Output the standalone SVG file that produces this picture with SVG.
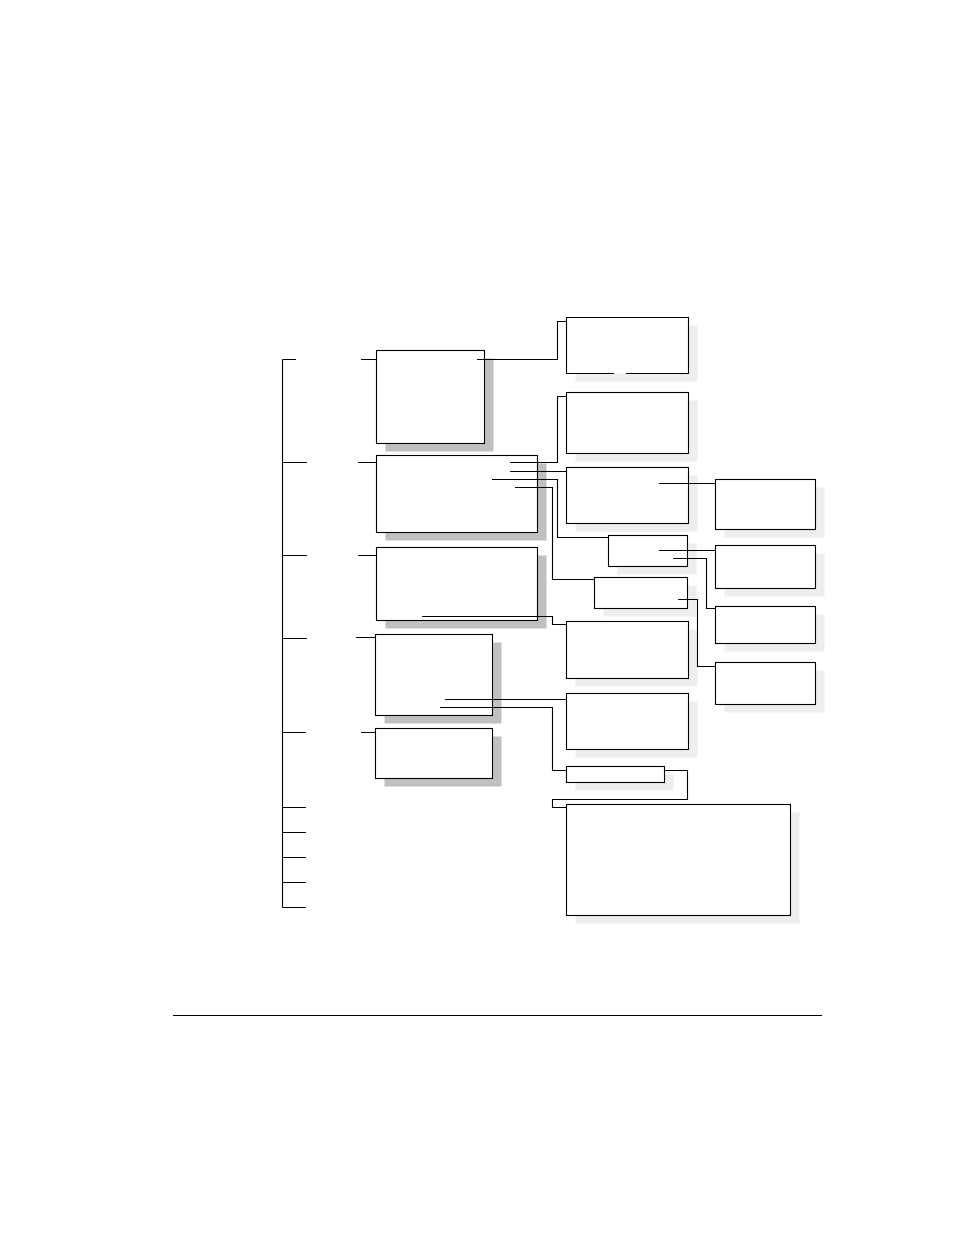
<svg xmlns="http://www.w3.org/2000/svg" width="954" height="1235" viewBox="0 0 954 1235">
<style>
.box{fill:#ffffff;stroke:#000000;stroke-width:1.1}
.sd{fill:#c0c0c0}
.sl{fill:#eeeeee}
.ln{fill:none;stroke:#000000;stroke-width:1.1}
</style>
<rect x="0" y="0" width="954" height="1235" fill="#ffffff"/>
<g id="nodeA"><rect class="sd" x="385.5" y="358.5" width="108" height="93"/><rect class="box" x="376.5" y="350.5" width="108" height="93"/></g>
<g id="nodeD"><rect class="sd" x="385.5" y="463.5" width="161" height="77"/><rect class="box" x="376.5" y="455.5" width="161" height="77"/></g>
<g id="nodeD2"><rect class="sd" x="385.5" y="555.5" width="161" height="73"/><rect class="box" x="376.5" y="547.5" width="161" height="73"/></g>
<g id="nodeM"><rect class="sd" x="384.5" y="642.5" width="117" height="81"/><rect class="box" x="375.5" y="634.5" width="117" height="81"/></g>
<g id="nodeQ"><rect class="sd" x="384.5" y="736.5" width="117" height="50"/><rect class="box" x="375.5" y="728.5" width="117" height="50"/></g>
<g id="nodeB"><rect class="sl" x="575.5" y="325.5" width="122" height="56"/><rect x="566.5" y="317.5" width="122" height="56" fill="#ffffff"/><path class="ln" d="M614 373.5 H566.5 V317.5 H688.5 V373.5 H626"/></g>
<g id="nodeC"><rect class="sl" x="575.5" y="400.5" width="122" height="61"/><rect class="box" x="566.5" y="392.5" width="122" height="61"/></g>
<g id="nodeE"><rect class="sl" x="575.5" y="475.5" width="122" height="56"/><rect class="box" x="566.5" y="467.5" width="122" height="56"/></g>
<g id="nodeF"><rect class="sl" x="617.5" y="543.5" width="79" height="31"/><rect class="box" x="608.5" y="535.5" width="79" height="31"/></g>
<g id="nodeG"><rect class="sl" x="603.5" y="585.5" width="93" height="31"/><rect class="box" x="594.5" y="577.5" width="93" height="31"/></g>
<g id="nodeL"><rect class="sl" x="575.5" y="629.5" width="122" height="57"/><rect class="box" x="566.5" y="621.5" width="122" height="57"/></g>
<g id="nodeN"><rect class="sl" x="575.5" y="701.5" width="122" height="56"/><rect class="box" x="566.5" y="693.5" width="122" height="56"/></g>
<g id="nodeO"><rect class="sl" x="575.5" y="774.5" width="98" height="16"/><rect class="box" x="566.5" y="766.5" width="98" height="16"/></g>
<g id="nodeP"><rect class="sl" x="575.5" y="812.5" width="224" height="111"/><rect class="box" x="566.5" y="804.5" width="224" height="111"/></g>
<g id="nodeH"><rect class="sl" x="724.5" y="487.5" width="100" height="50"/><rect class="box" x="715.5" y="479.5" width="100" height="50"/></g>
<g id="nodeI"><rect class="sl" x="724.5" y="553.5" width="100" height="43"/><rect class="box" x="715.5" y="545.5" width="100" height="43"/></g>
<g id="nodeJ"><rect class="sl" x="724.5" y="614.5" width="100" height="37"/><rect class="box" x="715.5" y="606.5" width="100" height="37"/></g>
<g id="nodeK"><rect class="sl" x="724.5" y="670.5" width="100" height="42"/><rect class="box" x="715.5" y="662.5" width="100" height="42"/></g>
<g id="connectors" class="ln">
<path class="ln" d="M282.5 359.5 V907.5"/>
<path class="ln" d="M282.5 359.5 H296 M361 359.5 H376.5"/>
<path class="ln" d="M282.5 462.5 H307 M358 462.5 H376.5"/>
<path class="ln" d="M282.5 555.5 H307 M358 555.5 H376.5"/>
<path class="ln" d="M282.5 638.5 H307 M356 637.5 H375.5"/>
<path class="ln" d="M282.5 732.5 H306 M361 732.5 H375.5"/>
<path class="ln" d="M282.5 807.5 H306 M282.5 832.5 H306 M282.5 857.5 H306 M282.5 882.5 H306 M282.5 907.5 H306"/>
<path class="ln" d="M477 359.5 H557.5 V321.5 H566.5"/>
<path class="ln" d="M510 462.5 H557.5 V396.5 H566.5"/>
<path class="ln" d="M510 471.5 H566.5"/>
<path class="ln" d="M492 479.5 H557.5 V537.5 H608.5"/>
<path class="ln" d="M515 487.5 H552.5 V579.5 H594.5"/>
<path class="ln" d="M659 483.5 H715.5"/>
<path class="ln" d="M659 550.5 H715.5"/>
<path class="ln" d="M673 558.5 H706.5 V608.5 H715.5"/>
<path class="ln" d="M678 599.5 H697.5 V666.5 H715.5"/>
<path class="ln" d="M422 616.5 H552.5 V624.5 H566.5"/>
<path class="ln" d="M445 699.5 H566.5"/>
<path class="ln" d="M440 707.5 H552.5 V770.5 H566.5"/>
<path class="ln" d="M664.5 770.5 H687.5 V799.5 H552.5 V807.5 H566.5"/>
</g>
<path class="ln" d="M173 1015.5 H822"/>
</svg>
